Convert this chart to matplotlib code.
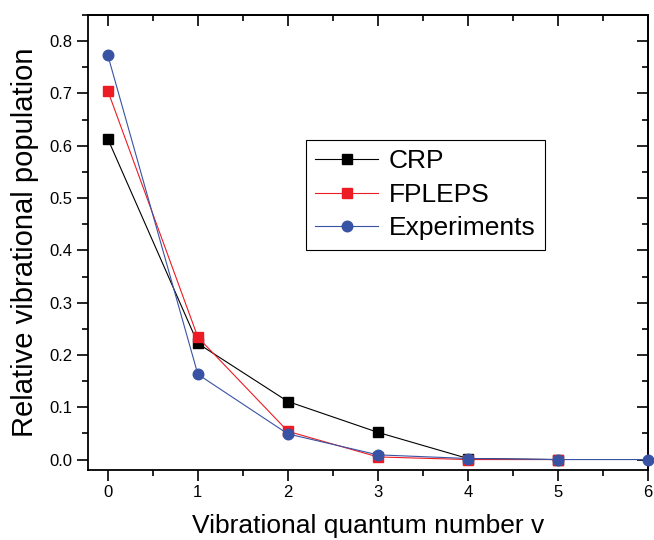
import matplotlib.pyplot as plt
from matplotlib.ticker import MultipleLocator

plt.rcParams['font.family'] = ['Liberation Sans', 'DejaVu Sans']

# vibrational quantum numbers
v_theory = [0, 1, 2, 3, 4, 5]
v_exp = [0, 1, 2, 3, 4, 5, 6]

# relative vibrational populations
crp = [0.613, 0.222, 0.111, 0.052, 0.002, 0.0]
fpleps = [0.705, 0.234, 0.054, 0.005, 0.0, 0.0]
experiments = [0.773, 0.163, 0.049, 0.009, 0.002, 0.0, 0.0]

fig = plt.figure(figsize=(6.54, 5.4), dpi=100)
ax = fig.add_axes([0.1346, 0.1296, 0.8562, 0.8426])

ax.plot(v_theory, crp, color='black', lw=0.8, marker='s', ms=6.5,
        label='CRP', zorder=3)
ax.plot(v_theory, fpleps, color='#ED1C24', lw=0.8, marker='s', ms=6.5,
        label='FPLEPS', zorder=4)
ax.plot(v_exp, experiments, color='#3953A4', lw=0.8, marker='o', ms=7.6,
        label='Experiments', zorder=5, clip_on=False)

ax.set_xlim(-0.22, 6)
ax.set_ylim(-0.02, 0.85)

ax.xaxis.set_major_locator(MultipleLocator(1))
ax.xaxis.set_minor_locator(MultipleLocator(0.5))
ax.yaxis.set_major_locator(MultipleLocator(0.1))
ax.yaxis.set_minor_locator(MultipleLocator(0.05))
ax.yaxis.set_major_formatter(plt.FuncFormatter(lambda y, p: '%.1f' % y))

# outward ticks on left/bottom, inward on top/right
ax.tick_params(which='both', direction='out', labelsize=12, width=1.2, pad=3)
ax.tick_params(which='major', length=8)
ax.tick_params(which='minor', length=4)
ax2 = ax.secondary_xaxis('top')
ax2.xaxis.set_major_locator(MultipleLocator(1))
ax2.xaxis.set_minor_locator(MultipleLocator(0.5))
ax2.tick_params(which='both', direction='in', labeltop=False, width=1.2)
ax2.tick_params(which='major', length=8)
ax2.tick_params(which='minor', length=4)
ax3 = ax.secondary_yaxis('right')
ax3.yaxis.set_major_locator(MultipleLocator(0.1))
ax3.yaxis.set_minor_locator(MultipleLocator(0.05))
ax3.tick_params(which='both', direction='in', labelright=False, width=1.2)
ax3.tick_params(which='major', length=8)
ax3.tick_params(which='minor', length=4)
for s in ax.spines.values():
    s.set_linewidth(1.3)
ax2.spines['top'].set_linewidth(1.3)
ax3.spines['right'].set_linewidth(1.3)

ax.set_xlabel('Vibrational quantum number v', fontsize=19, labelpad=10)
ax.set_ylabel('Relative vibrational population', fontsize=21, labelpad=8)

leg = ax.legend(loc='upper left', bbox_to_anchor=(0.389, 0.725), fontsize=19,
                fancybox=False, edgecolor='black', handlelength=2.4,
                handletextpad=0.4, borderpad=0.35, labelspacing=0.36,
                borderaxespad=0, framealpha=1)
leg.get_frame().set_linewidth(0.8)

fig.savefig('out.png', dpi=100)
